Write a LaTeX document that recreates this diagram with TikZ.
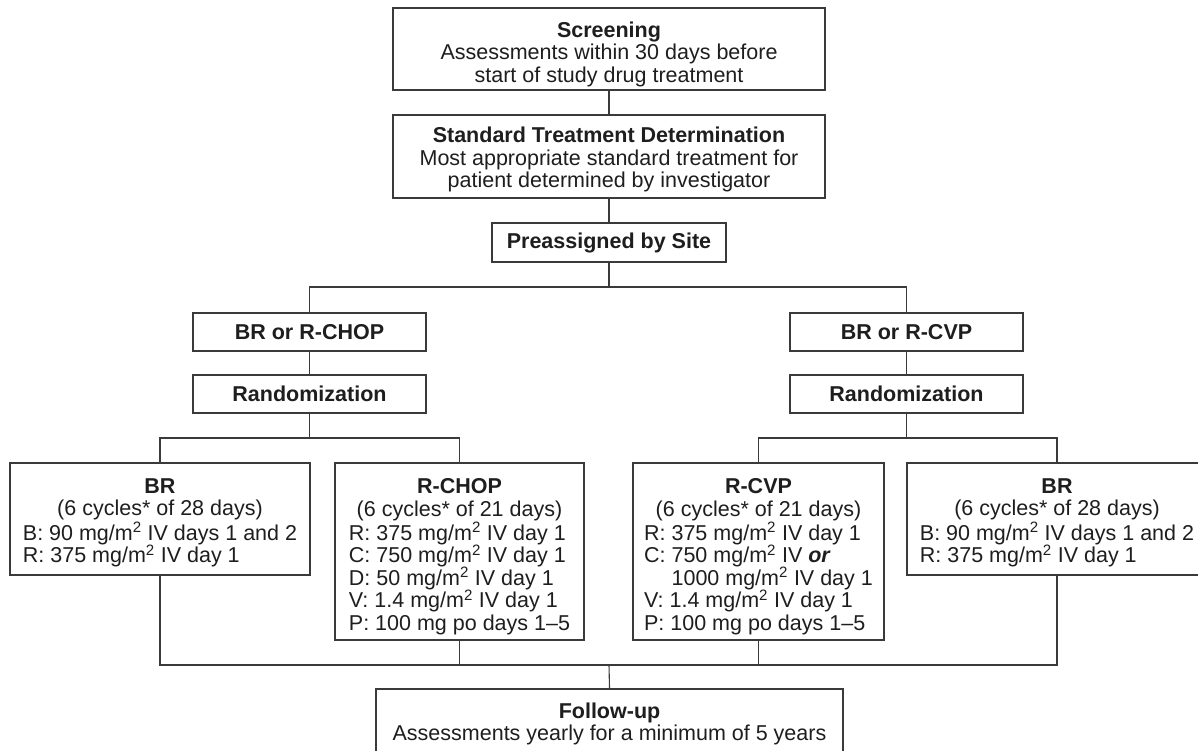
\documentclass[tikz,border=0pt]{standalone}
\usepackage{fontspec}
\setmainfont{Liberation Sans}
\definecolor{ink}{HTML}{1E1E1E}
\definecolor{edge}{HTML}{3A3A3A}
\newcommand{\msq}{mg/m\smash{\textsuperscript{2}}}
\begin{document}
\begin{tikzpicture}[x=1pt,y=-1pt,
  box/.style={draw=edge,line width=1.1pt,fill=white,inner sep=0pt},
  txt/.style={text=ink,align=center,inner sep=0pt,font=\fontsize{21.5}{22.5}\selectfont},
  conn/.style={draw=edge,line width=1.1pt}]
\useasboundingbox (0,0) rectangle (1198,750);
\clip (0,0) rectangle (1198,750);
% top column
\node[box,minimum width=432,minimum height=82] (scr) at (609,49) {};
\node[txt] (scrt) at ([yshift=-5]scr.center) {\textbf{Screening}\\Assessments within 30 days before\\start of study drug treatment};
\node[box,minimum width=432,minimum height=83] (std) at (609,156.5) {};
\node[txt] (stdt) at ([yshift=-3]std.center) {\textbf{Standard Treatment Determination}\\Most appropriate standard treatment for\\patient determined by investigator};
\node[box,minimum width=234,minimum height=39] (pre) at (609,242.5) {};
\node[txt] (pret) at (pre.center) {\textbf{Preassigned by Site}};
% second tier
\node[box,minimum width=233,minimum height=38] (brc) at (309.5,332) {};
\node[txt] (brct) at (brc.center) {\textbf{BR or R-CHOP}};
\node[box,minimum width=233,minimum height=38] (randl) at (309.5,394) {};
\node[txt] (randlt) at (randl.center) {\textbf{Randomization}};
\node[box,minimum width=233,minimum height=38] (brv) at (906.5,332) {};
\node[txt] (brvt) at (brv.center) {\textbf{BR or R-CVP}};
\node[box,minimum width=233,minimum height=38] (randr) at (906.5,394) {};
\node[txt] (randrt) at (randr.center) {\textbf{Randomization}};
% treatment boxes
\node[box,minimum width=300,minimum height=112] (bra) at (160,519) {};
\node[txt,anchor=north] (brat) at ([yshift=-16]bra.north) {\textbf{BR}\\(6 cycles* of 28 days)\\[3pt]
  \begin{tabular}{@{}l@{}}B: 90 \msq{} IV days 1 and 2\\R: 375 \msq{} IV day 1\end{tabular}};
\node[box,minimum width=249,minimum height=177] (rchop) at (459.5,551.5) {};
\node[txt,anchor=north] (rchopt) at ([yshift=-16]rchop.north) {\textbf{R-CHOP}\\(6 cycles* of 21 days)\\[3pt]
  \begin{tabular}{@{}l@{}}R: 375 \msq{} IV day 1\\C: 750 \msq{} IV day 1\\D: 50 \msq{} IV day 1\\V: 1.4 \msq{} IV day 1\\P: 100 mg po days 1\textendash 5\end{tabular}};
\node[box,minimum width=251,minimum height=177] (rcvp) at (758.5,551.5) {};
\node[txt,anchor=north] (rcvpt) at ([yshift=-16]rcvp.north) {\textbf{R-CVP}\\(6 cycles* of 21 days)\\[3pt]
  \begin{tabular}{@{}l@{}}R: 375 \msq{} IV day 1\\C: 750 \msq{} IV \textbf{\textit{or}}\\\phantom{C: }1000 \msq{} IV day 1\\V: 1.4 \msq{} IV day 1\\P: 100 mg po days 1\textendash 5\end{tabular}};
\node[box,minimum width=300,minimum height=112] (brb) at (1057,519) {};
\node[txt,anchor=north] (brbt) at ([yshift=-16]brb.north) {\textbf{BR}\\(6 cycles* of 28 days)\\[3pt]
  \begin{tabular}{@{}l@{}}B: 90 \msq{} IV days 1 and 2\\R: 375 \msq{} IV day 1\end{tabular}};
% follow-up
\node[box,minimum width=467,minimum height=72] (fu) at (609.5,725) {};
\node[txt,anchor=north] (fut) at ([yshift=-14]fu.north) {\textbf{Follow-up}\\Assessments yearly for a minimum of 5 years};
% junctions
\coordinate (j1) at (609,287);
\coordinate (j2) at (309.5,438);
\coordinate (j3) at (906.5,438);
\coordinate (j4) at (609,665);
% connectors
\draw[conn] (scr.south) -- (std.north);
\draw[conn] (std.south) -- (pre.north);
\draw[conn] (pre.south) -- (j1);
\draw[conn] (brc.north) |- (j1) -| (brv.north);
\draw[conn] (brc.south) -- (randl.north);
\draw[conn] (brv.south) -- (randr.north);
\draw[conn] (randl.south) -- (j2);
\draw[conn] (bra.north) |- (j2) -| (rchop.north);
\draw[conn] (randr.south) -- (j3);
\draw[conn] (rcvp.north) |- (j3) -| (brb.north);
\draw[conn] (bra.south) |- (j4) -| (brb.south);
\draw[conn] (rchop.south) -- (rchop.south |- j4);
\draw[conn] (rcvp.south) -- (rcvp.south |- j4);
\draw[conn] (j4) -- (fu.north);
\end{tikzpicture}
\end{document}
